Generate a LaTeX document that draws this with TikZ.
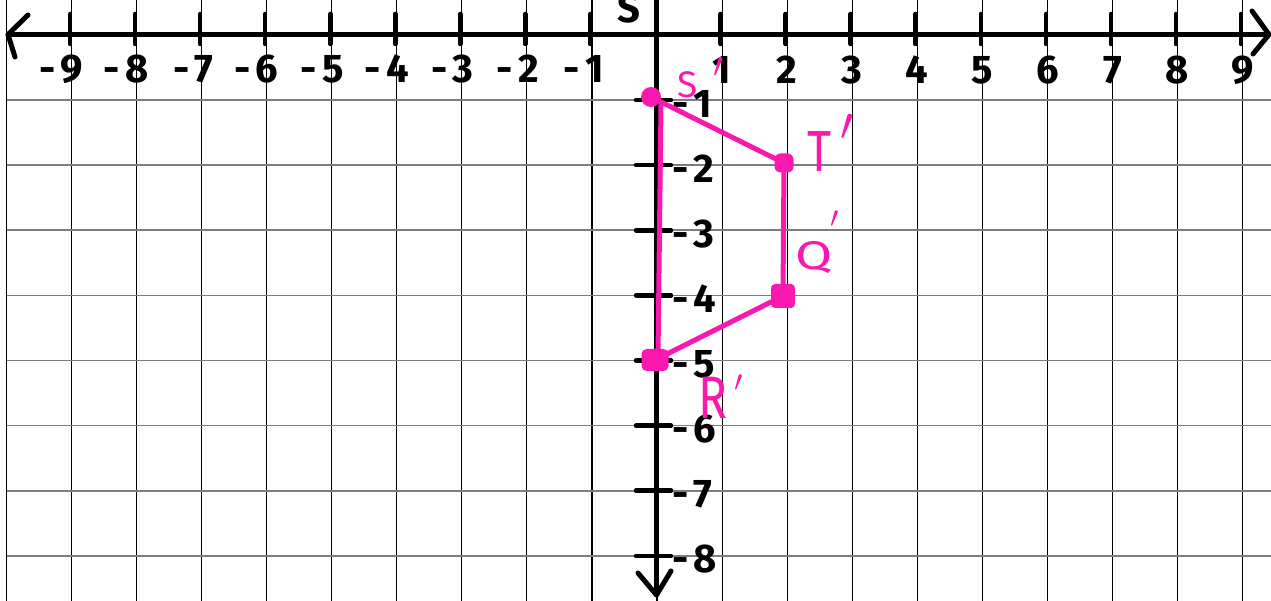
\documentclass[tikz,border=0pt]{standalone}
\usepackage{fontspec}
\setmainfont{Fira Sans}
\definecolor{pinkc}{RGB}{250,25,175}
\definecolor{gridgray}{RGB}{125,125,125}
\newcommand{\primemark}[2]{\raisebox{#1}{\fontsize{10}{10}\selectfont\scalebox{#2}{$\prime$}}}
\begin{document}
\begin{tikzpicture}[x=1pt,y=-1pt,
  vgrid/.style={black,line width=1.1pt},
  hgrid/.style={gridgray,line width=1.6pt},
  axisline/.style={black,line width=5pt,line cap=round,line join=round},
  tickmark/.style={black,line width=4.5pt,line cap=round},
  numlbl/.style={font=\fontsize{40}{40}\bfseries\selectfont,inner sep=0pt},
  edge/.style={pinkc,line width=5pt,line cap=round,line join=round},
  vdot/.style={fill=pinkc,inner sep=0pt},
  plabel/.style={pinkc,inner sep=0pt}
]
\fill[white] (0,0) rectangle (1271,601);
\useasboundingbox (0,0) rectangle (1271,601);
\begin{scope}
\clip (0,0) rectangle (1271,601);
% grid
\foreach \k in {-10,...,9} \draw[vgrid] ({657+65.05*\k},0) -- ({657+65.05*\k},601);
\foreach \k in {1,...,8} \draw[hgrid] (6.5,{35+65.1*\k}) -- (1271,{35+65.1*\k});
% axes
\coordinate (xl) at (8,34.5);
\coordinate (xr) at (1269,34.5);
\coordinate (yt) at (656.5,-3);
\coordinate (yb) at (656.5,595);
\draw[axisline] (xl) -- (xr);
\draw[axisline] (yt) -- (yb);
\draw[axisline] (28,15) -- (xl) -- (15,57);
\draw[axisline] (1252,11) -- (xr) -- (1253,54);
\draw[axisline] (638,573) -- (yb) -- (671,571);
% x ticks and labels
\foreach \k in {-9,...,-1,1,2,...,9} \draw[tickmark] ({657+65.05*\k-1.5},14) -- ++(0,30);
\foreach \k in {-9,...,-1} {
  \pgfmathtruncatemacro\ak{-\k}
  \node[numlbl,anchor=base east] at ({657+65.05*\k+12},83) {-\hspace{5pt}\ak};
}
\foreach \k in {1,...,9} \node[numlbl,anchor=base] at ({657+65.05*\k},84) {\k};
% y ticks and labels
\foreach \k in {1,...,8} {
  \draw[tickmark] (636,{35+65.1*\k}) -- (671,{35+65.1*\k});
  \node[numlbl,anchor=base west] at (672,{35+65.1*\k+17}) {-\hspace{5pt}\k};
}
\node[numlbl,anchor=base] (ylab) at (629,23) {S};
% pink figure
\coordinate (sa) at (661,104);
\coordinate (ra) at (658,356);
\node[vdot,circle,minimum size=20pt] (Sp) at (651,97) {};
\node[vdot,rounded corners=6pt,minimum size=19pt] (Tp) at (784,163) {};
\node[vdot,rounded corners=4pt,minimum size=24pt] (Qp) at (783,296) {};
\node[vdot,rounded corners=5pt,minimum width=27pt,minimum height=22pt] (Rp) at (655,360) {};
\draw[edge] (Sp.center) -- (Tp.center) -- (Qp.center) -- (Rp.center);
\draw[edge] (sa) -- (ra);
\node[plabel,anchor=base west,font=\fontsize{37}{37}\selectfont] (sl) at (677,98) {S\hspace{16pt}\primemark{20pt}{3.6}};
\node[plabel,anchor=base west,font=\fontsize{58}{58}\selectfont] (tl) at (807,172) {\scalebox{0.8}[1]{T}\hspace{9pt}\primemark{31pt}{4.7}};
\node[plabel,anchor=base west,font=\fontsize{40}{40}\selectfont] (ql) at (795,270) {\scalebox{1.35}[1]{Q}\hspace{-2pt}\primemark{42pt}{3}};
\node[plabel,anchor=base west,font=\fontsize{60}{60}\selectfont] (rl) at (698,418) {\scalebox{0.8}[1]{R}\hspace{7pt}\primemark{27pt}{3}};
\end{scope}
\end{tikzpicture}
\end{document}
